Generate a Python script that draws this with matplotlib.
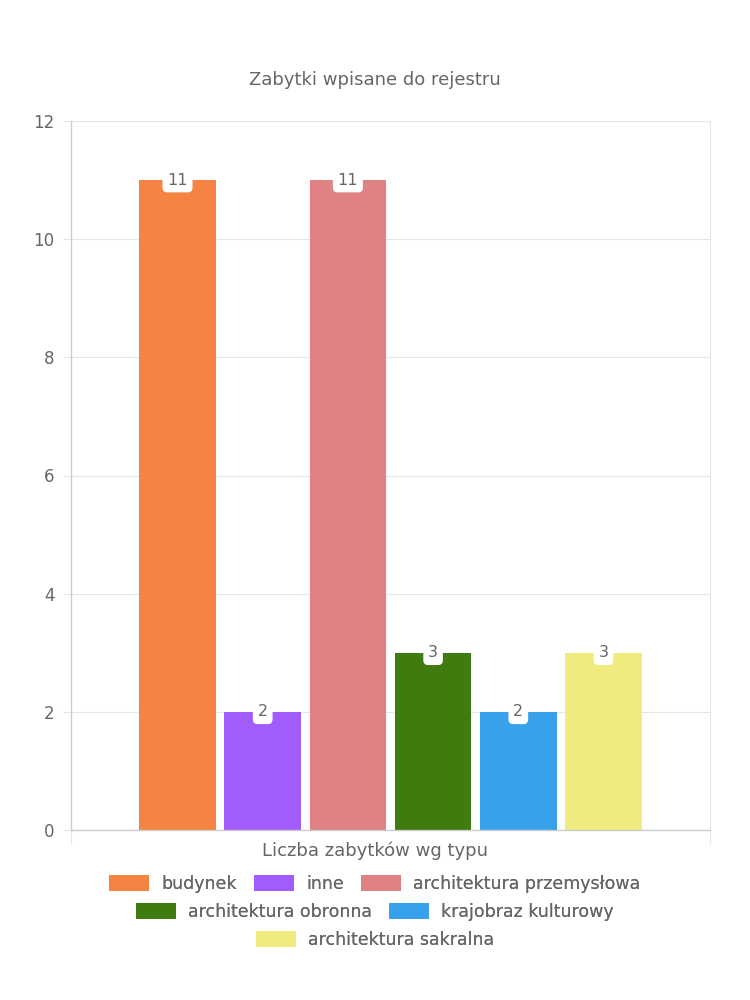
import matplotlib
matplotlib.use("Agg")
import matplotlib.pyplot as plt
from matplotlib.patches import Patch
import numpy as np

categories = ["budynek", "inne", "architektura przemysłowa",
              "architektura obronna", "krajobraz kulturowy", "architektura sakralna"]
values = [11, 2, 11, 3, 2, 3]
colors = ["#F58342", "#A35CFC", "#E08284", "#3F7B0E", "#37A2EB", "#F0EB7E"]
yticks = [0, 2, 4, 6, 8, 10, 12]
title = "Zabytki wpisane do rejestru"
xlabel = "Liczba zabytków wg typu"

plt.rcParams['font.family'] = ['DejaVu Sans']
txt = "#666666"
gridc = "#e6e6e6"
axc = "#cccccc"

fig = plt.figure(figsize=(7.5, 10), dpi=100)
ax = fig.add_axes([71/750, 1-830/1000, (710-71)/750, (830-121)/1000])

n = len(values)
x = np.arange(n)
ax.bar(x, values, width=0.9, color=colors, zorder=2)
ax.set_xlim(-0.5 - 0.75, n - 0.5 + 0.75)
ax.set_ylim(0, 12)
ax.set_yticks(yticks)
ax.set_yticklabels([str(t) for t in yticks], color=txt, fontsize=12)
ax.set_xticks([-1.25, n - 0.5 + 0.75])
ax.set_xticklabels(["", ""])
ax.tick_params(axis='y', length=6, color=gridc, pad=6)
ax.tick_params(axis='x', length=10, color=gridc)
ax.grid(axis='y', color=gridc, linewidth=0.8, zorder=0)
for s in ["left", "bottom"]:
    ax.spines[s].set_color(axc)
    ax.spines[s].set_linewidth(1)
ax.spines["right"].set_color(gridc)
ax.spines["top"].set_visible(False)

for xi, v in zip(x, values):
    ax.annotate(str(v), (xi, v), ha='center', va='center', fontsize=11.5, color=txt,
                bbox=dict(boxstyle="round,pad=0.3,rounding_size=0.3", fc="white", ec="none"),
                zorder=3)

fig.text(0.5, 1 - 80/1000, title, ha='center', va='center', fontsize=13, color=txt)
fig.text(0.5, 1 - 851/1000, xlabel, ha='center', va='center', fontsize=13, color=txt)

handles = [Patch(facecolor=c, edgecolor='none') for c in colors]
rows = [[0, 1, 2], [3, 4], [5]]
row_y = [884, 912, 940]
for r, yy in zip(rows, row_y):
    leg = fig.legend([handles[i] for i in r], [categories[i] for i in r],
                     loc='center', bbox_to_anchor=(0.5, 1 - yy/1000), ncol=len(r),
                     frameon=False, fontsize=12.5, handlelength=2.3, handleheight=1.05,
                     handletextpad=0.7, columnspacing=1.0, labelcolor=txt)
    fig.add_artist(leg)

fig.savefig("out.png", dpi=100)
